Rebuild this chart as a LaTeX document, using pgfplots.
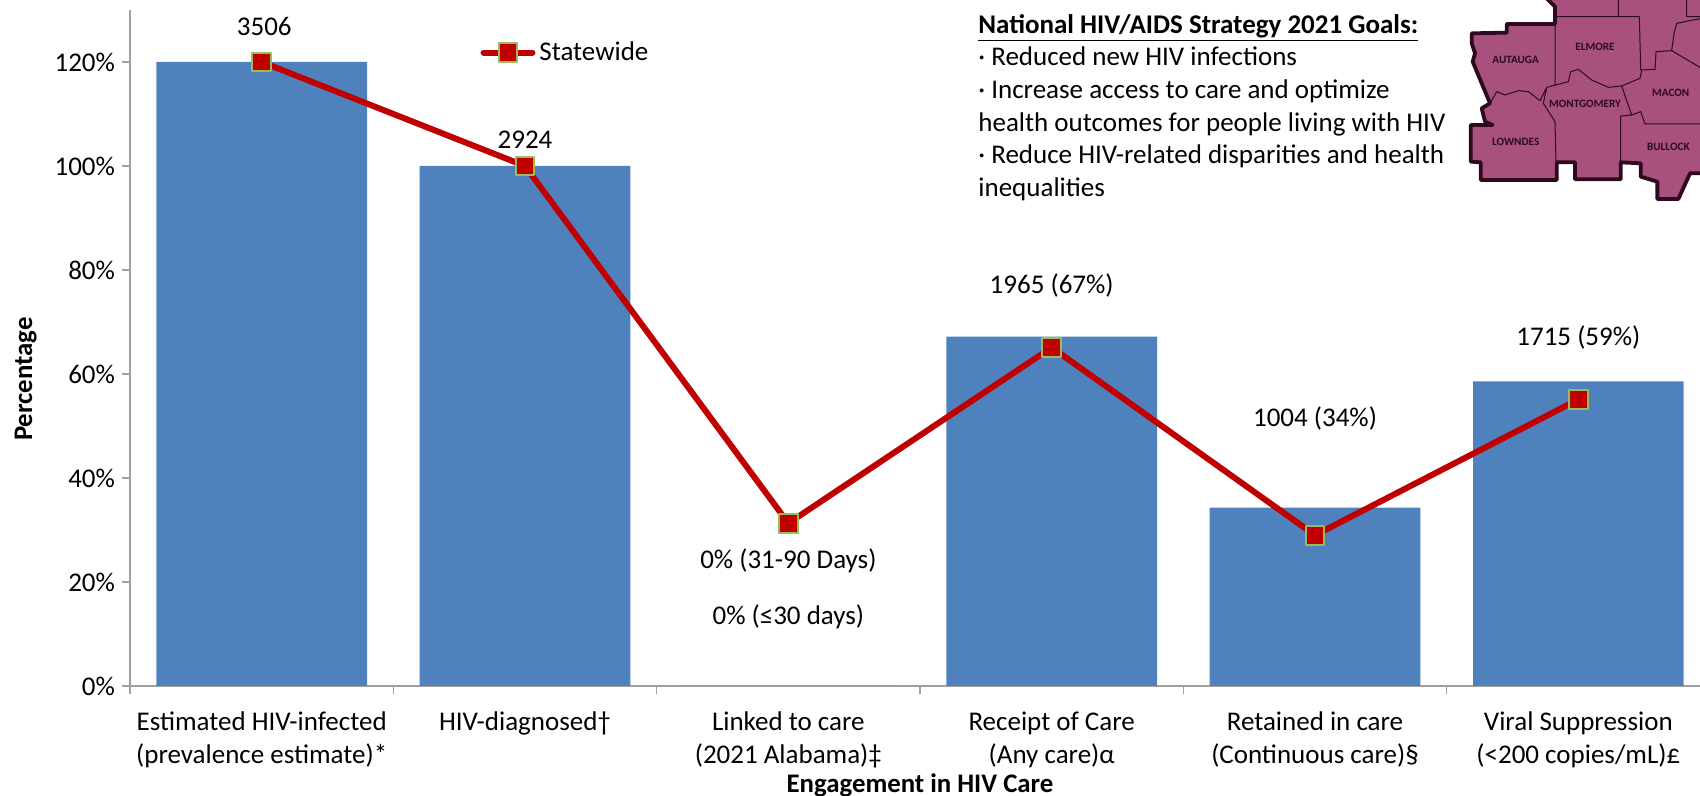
\documentclass[border=0pt]{standalone}
\usepackage{fontspec}
\setmainfont{Carlito}
\usepackage{pgfplots}
\pgfplotsset{compat=1.18}
\definecolor{barblue}{HTML}{4F81BD}
\definecolor{linered}{HTML}{C00000}
\definecolor{markgreen}{HTML}{9BBB59}
\definecolor{axisgray}{HTML}{A0A0A0}
\definecolor{mapfill}{HTML}{A8517E}
\definecolor{mapline}{HTML}{2E0A1F}
\begin{document}
\begin{tikzpicture}
\useasboundingbox (0,0) rectangle (850pt,398pt);
\clip (0,0) rectangle (850pt,398pt);
\begin{axis}[
  at={(65pt,55pt)}, anchor=south west,
  scale only axis, width=790pt, height=338pt,
  xmin=-0.5, xmax=5.5, ymin=0, ymax=130,
  axis x line=bottom, axis y line=left,
  axis line style={axisgray, line width=0.9pt, -},
  clip=false,
  tick align=outside,
  tick style={axisgray, line width=0.8pt},
  ytick={0,20,40,60,80,100,120},
  yticklabel={\pgfmathprintnumber{\tick}\%},
  xtick={0,1,2,3,4,5},
  xticklabels={Estimated HIV-infected\\(prevalence estimate)*,
    HIV-diagnosed†,
    Linked to care\\(2021 Alabama)‡,
    Receipt of Care\\(Any care)α,
    Retained in care\\(Continuous care)§,
    Viral Suppression\\(<200 copies/mL)£},
  x tick label style={align=center, yshift=-5.5pt, font=\fontsize{13.5}{16.3}\selectfont},
  y tick label style={font=\fontsize{13.5}{15}\selectfont},
  /pgf/number format/assume math mode=true,
  major tick length=4pt,
  minor xtick={-0.5,0.5,1.5,2.5,3.5,4.5,5.5},
  x tick style={draw=none},
  minor x tick style={draw=axisgray, line width=0.8pt},
  minor tick length=4pt,
  xlabel={\textbf{Engagement in HIV Care}},
  ylabel={\textbf{Percentage}},
  label style={font=\fontsize{13.4}{15}\selectfont},
  xlabel style={at={(axis description cs:0.5,0)}, anchor=center, yshift=-49.5pt},
  ylabel style={at={(axis description cs:-0.066,0.454)}, anchor=center, rotate=0},
  legend style={draw=none, fill=none, at={(axis cs:0.83,121.8)}, anchor=west,
    font=\fontsize{13.5}{15}\selectfont, inner sep=0pt,
    legend cell align=left},
  legend image code/.code={
    \draw[mark repeat=2, mark phase=2, #1] plot coordinates {(0pt,0pt) (12.2pt,0pt) (24.4pt,0pt)};
  },
]
\addplot[forget plot, ybar, bar width=0.8, fill=barblue, draw=none] coordinates {
  (0,120) (1,100) (2,0) (3,67.2) (4,34.3) (5,58.6)
};
\addplot[linered, line width=3pt, line join=round, line cap=round,
  mark=square*, mark size=4.7pt,
  mark options={fill=linered, draw=markgreen, line width=1pt, solid}] coordinates {
  (0,120) (1,100) (2,31.3) (3,65.1) (4,29) (5,55.1)
};
\addlegendentry{Statewide}
\begin{scope}[every node/.style={font=\fontsize{13.5}{15}\selectfont}]
\node at (axis cs:0.01,126.9) {3506};
\node at (axis cs:1,105.1) {2924};
\node at (axis cs:3,77.1) {1965 (67\%)};
\node at (axis cs:4,51.5) {1004 (34\%)};
\node at (axis cs:5,67.1) {1715 (59\%)};
\node at (axis cs:2,24.1) {0\% (31-90 Days)};
\node at (axis cs:2,13.3) {0\% (≤30 days)};
\end{scope}
\end{axis}
% goals text
\node[anchor=north west, inner sep=0pt, align=left, font=\fontsize{13.5}{16.3}\selectfont]
  at (489pt,391pt) {\textbf{\underline{National HIV/AIDS Strategy 2021 Goals:}}\\
  · Reduced new HIV infections\\
  · Increase access to care and optimize\\
  health outcomes for people living with HIV\\
  · Reduce HIV-related disparities and health\\
  inequalities};
% county map, coordinates in 1/6 pt from the crop corner
\begin{scope}[shift={(700pt,398pt)}, x=0.16667pt, y=-0.16667pt]
\fill[mapfill] (440,-5) -- (465,20) -- (465,72) -- (320,72) -- (320,98) -- (215,100) -- (215,130)
  -- (225,160) -- (218,185) -- (245,250) -- (270,310) -- (245,325) -- (255,365) -- (278,375)
  -- (212,375) -- (212,485) -- (242,487) -- (242,540) -- (470,540) -- (470,487) -- (525,487)
  -- (525,538) -- (662,538) -- (662,487) -- (722,490) -- (722,530) -- (772,545) -- (772,597)
  -- (835,597) -- (870,520) -- (905,520) -- (905,-5) -- cycle;
\draw[mapline, line width=1.9pt, line join=round] (440,-5) -- (465,20) -- (465,72) -- (320,72) -- (320,98) -- (215,100) -- (215,130)
  -- (225,160) -- (218,185) -- (245,250) -- (270,310) -- (245,325) -- (255,365) -- (278,375)
  -- (212,375) -- (212,485) -- (242,487) -- (242,540) -- (470,540) -- (470,487) -- (525,487)
  -- (525,538) -- (662,538) -- (662,487) -- (722,490) -- (722,530) -- (772,545) -- (772,597)
  -- (835,597) -- (870,520) -- (905,520);
\draw[mapline, line width=0.5pt, line join=round]
  (465,50) -- (465,255)
  (465,50) -- (718,50) -- (722,210)
  (655,-5) -- (655,50)
  (860,-5) -- (860,50) -- (905,50)
  (722,210) -- (765,208) -- (768,155) -- (815,152) -- (822,100) -- (830,70) -- (905,55)
  (815,152) -- (905,205)
  (440,262) -- (505,245) -- (512,215) -- (535,208) -- (575,240) -- (625,262) -- (665,258) -- (720,235) -- (725,210)
  (270,310) -- (290,275) -- (315,285) -- (355,272) -- (385,275) -- (420,302) -- (440,262) -- (430,310) -- (465,365) -- (468,487)
  (665,258) -- (695,345) -- (662,348) -- (662,487)
  (695,345) -- (722,335) -- (735,372) -- (905,372);
\begin{scope}[every node/.style={font=\fontsize{5.6}{6}\selectfont\bfseries, text=mapline, inner sep=0pt}]
\node at (347,180) {AUTAUGA};
\node at (585,142) {ELMORE};
\node at (812,278) {MACON};
\node at (555,312) {MONTGOMERY};
\node at (347,425) {LOWNDES};
\node at (805,440) {BULLOCK};
\end{scope}
\end{scope}
\end{tikzpicture}
\end{document}
